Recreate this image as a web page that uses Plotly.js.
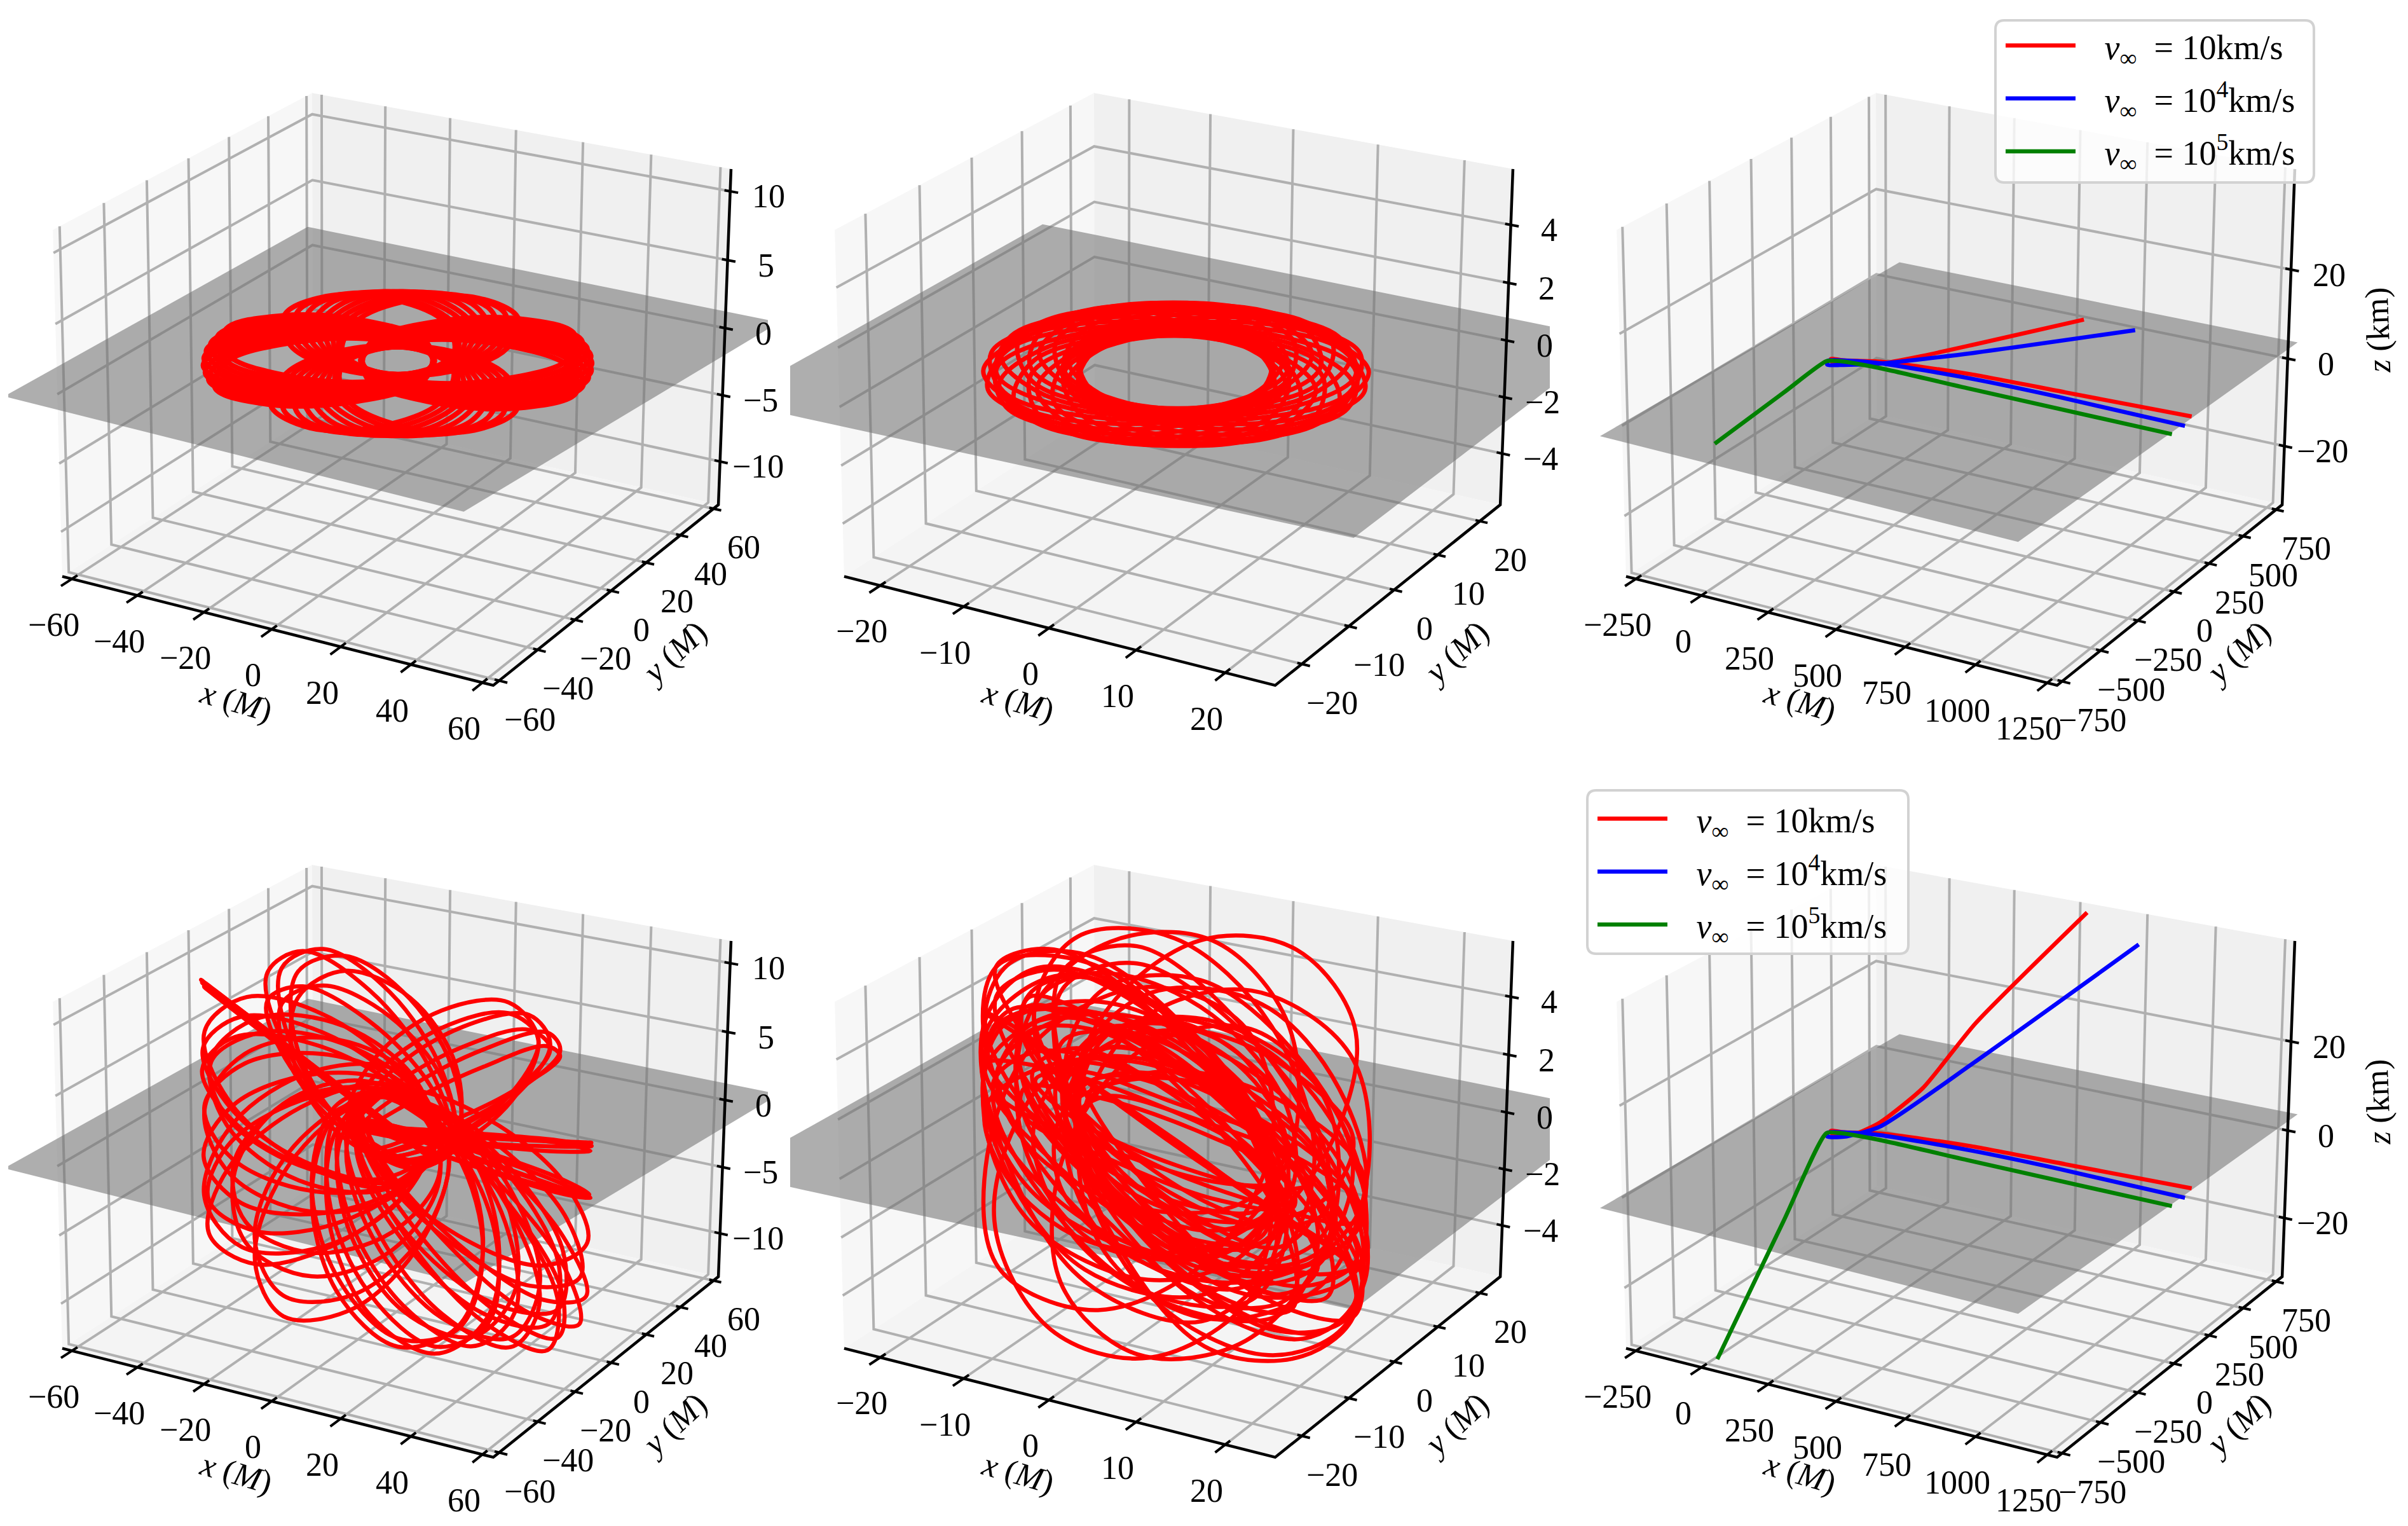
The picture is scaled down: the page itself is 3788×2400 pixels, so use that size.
<!DOCTYPE html>
<html><head><meta charset="utf-8"><script src="https://cdn.plot.ly/plotly-3.0.1.min.js"></script>
<style>html,body{margin:0;padding:0;background:#fff;overflow:hidden}</style></head><body><div id="g" style="width:3788px;height:2400px"></div>
<script>
const N=null;
const xRed=[1235,792,452,141,32,-13,19,82,149,235,332,538];
const yRed=[193,170,153,101,50,39,6,46,84,215,390,774];
const zRedBottom=[0,0,0,0,0,0,0,0.5,3,9,21,40.7];
const xBlue=[1252,795,470,146,12,-13,3,51,148,365,732];
const yBlue=[112,125,120,88,41,21,-10,15,85,320,774];
const zBlueBottom=[0,0,0,0,0,0,0,0,2,14,35.7];
const xGreen=[1247,510,163,19,-15,8,45];
const yGreen=[31,42,50,36,14,-290,-758];
const zGreenBottom=[0,0,0,0,0,-12.4,-31.7];
const legendNames=['&nbsp;&nbsp;&nbsp;<i>v</i><sub>∞</sub>&nbsp;&nbsp;=&nbsp;10km/s','&nbsp;&nbsp;&nbsp;<i>v</i><sub>∞</sub>&nbsp;&nbsp;=&nbsp;10<sup>4</sup>km/s','&nbsp;&nbsp;&nbsp;<i>v</i><sub>∞</sub>&nbsp;&nbsp;=&nbsp;10<sup>5</sup>km/s'];
// equatorial orbit, wide band (z = 0)
const xOrbit1=[-9.5,-1.9,18.7,40.1,49.9,42.3,21.7,.3,N,-9.4,-3.5,16.2,38,49.2,43.4,23.7,1.9,N,-9.1,-5,13.4,35.4,48.1,43.9,25.5,3.5,N,-8.8,-6.5,10.6,32.5,46.4,44.1,27,5,N,-8.4,-7.9,7.7,29.2,44.1,43.7,28.1,6.5,N,-7.9,-9.3,4.6,25.6,41.5,42.8,29,7.9,N,-7.3,-10.5,1.5,21.7,38.3,41.5,29.5,9.3,N,-6.6,-11.6,-1.6,17.6,34.8,39.8,29.2,10.5,N,-5.8,-12.6,-4.7,13.3,30.8,37.6,29.7,11.6,N,
.7,-15.3,-23.2,-18.3,-3.5,12.5,20.3,15.4,N,1.6,-15,-25,-22.4,-8.7,8,18,15.3,N,2.6,-14.6,-26.5,-26.2,-13.8,3.4,15.4,15,N,3.6,-14,-27.8,-29.8,-18.7,-1.2,12.6,14.6,N,4.5,-13.2,-28.8,-33,-23.5,-5.8,9.8,14,N,5.3,-12.3,-29.4,-35.9,-28,-10.3,6.8,13.2,N,6.1,-11.3,-29.7,-38.4,-32.1,-14.8,3.7,12.3,N,6.8,-10.1,-29.7,-40.4,-36,-19,.6,11.3,N,7.5,-8.9,-29.4,-42,-39.4,-23.1,-2.5,10.1,N,
9.5,1.9,-18.7,-40.1,-49.9,-42.3,-21.7,-.3,N,9.4,3.5,-16.2,-38,-49.2,-43.4,-23.7,-1.9,N,9.1,5,-13.4,-35.4,-48.1,-43.9,-25.5,-3.5,N,8.8,6.5,-10.6,-32.5,-46.4,-44.1,-27,-5,N,8.4,7.9,-7.7,-29.2,-44.1,-43.7,-28.1,-6.5,N,7.9,9.3,-4.6,-25.6,-41.5,-42.8,-29,-7.9,N,7.3,10.5,-1.5,-21.7,-38.3,-41.5,-29.5,-9.3,N,6.6,11.6,1.6,-17.6,-34.8,-39.8,-29.2,-10.5,N,5.8,12.6,4.7,-13.3,-30.8,-37.6,-29.7,-11.6,N,
-.7,15.3,23.2,18.3,3.5,-12.5,-20.3,-15.4,N,-1.6,15,25,22.4,8.7,-8,-18,-15.3,N,-2.6,14.6,26.5,26.2,13.8,-3.4,-15.4,-15,N,-3.6,14,27.8,29.8,18.7,1.2,-12.6,-14.6,N,-4.5,13.2,28.8,33,23.5,5.8,-9.8,-14,N,-5.3,12.3,29.4,35.9,28,10.3,-6.8,-13.2,N,-6.1,11.3,29.7,38.4,32.1,14.8,-3.7,-12.3,N,-6.8,10.1,29.7,40.4,36,19,-.6,-11.3,N,-7.5,8.9,29.4,42,39.4,23.1,2.5,-10.1];
const yOrbit1=[-.7,15.3,23.2,18.3,3.5,-12.5,-20.3,-15.4,N,-1.6,15,25,22.4,8.7,-8,-18,-15.3,N,-2.6,14.6,26.5,26.2,13.8,-3.4,-15.4,-15,N,-3.6,14,27.8,29.8,18.7,1.2,-12.6,-14.6,N,-4.5,13.2,28.8,33,23.5,5.8,-9.8,-14,N,-5.3,12.3,29.4,35.9,28,10.3,-6.8,-13.2,N,-6.1,11.3,29.7,38.4,32.1,14.8,-3.7,-12.3,N,-6.8,10.1,29.7,40.4,36,19,-.6,-11.3,N,-7.5,8.9,29.4,42,39.4,23.1,2.5,-10.1,N,
-9.5,-1.9,18.7,40.1,49.9,42.3,21.7,.3,N,-9.4,-3.5,16.2,38,49.2,43.4,23.7,1.9,N,-9.1,-5,13.4,35.4,48.1,43.9,25.5,3.5,N,-8.8,-6.5,10.6,32.5,46.4,44.1,27,5,N,-8.4,-7.9,7.7,29.2,44.1,43.7,28.1,6.5,N,-7.9,-9.3,4.6,25.6,41.5,42.8,29,7.9,N,-7.3,-10.5,1.5,21.7,38.3,41.5,29.5,9.3,N,-6.6,-11.6,-1.6,17.6,34.8,39.8,29.2,10.5,N,-5.8,-12.6,-4.7,13.3,30.8,37.6,29.7,11.6,N,
.7,-15.3,-23.2,-18.3,-3.5,12.5,20.3,15.4,N,1.6,-15,-25,-22.4,-8.7,8,18,15.3,N,2.6,-14.6,-26.5,-26.2,-13.8,3.4,15.4,15,N,3.6,-14,-27.8,-29.8,-18.7,-1.2,12.6,14.6,N,4.5,-13.2,-28.8,-33,-23.5,-5.8,9.8,14,N,5.3,-12.3,-29.4,-35.9,-28,-10.3,6.8,13.2,N,6.1,-11.3,-29.7,-38.4,-32.1,-14.8,3.7,12.3,N,6.8,-10.1,-29.7,-40.4,-36,-19,.6,11.3,N,7.5,-8.9,-29.4,-42,-39.4,-23.1,-2.5,10.1,N,
9.5,1.9,-18.7,-40.1,-49.9,-42.3,-21.7,-.3,N,9.4,3.5,-16.2,-38,-49.2,-43.4,-23.7,-1.9,N,9.1,5,-13.4,-35.4,-48.1,-43.9,-25.5,-3.5,N,8.8,6.5,-10.6,-32.5,-46.4,-44.1,-27,-5,N,8.4,7.9,-7.7,-29.2,-44.1,-43.7,-28.1,-6.5,N,7.9,9.3,-4.6,-25.6,-41.5,-42.8,-29,-7.9,N,7.3,10.5,-1.5,-21.7,-38.3,-41.5,-29.5,-9.3,N,6.6,11.6,1.6,-17.6,-34.8,-39.8,-29.2,-10.5,N,5.8,12.6,4.7,-13.3,-30.8,-37.6,-29.7,-11.6];
// equatorial orbit, narrow band (z = 0)
const xOrbit2=[-10,-5.6,4.9,15.4,19.8,15.4,4.9,-5.6,N,-9.7,-8,1,12.3,19.1,17.5,8.4,-2.8,N,-8.7,-9.8,-2.8,8.3,17.1,18.3,11.3,.2,N,-7.1,-11.1,-6.5,3.8,14,18,13.5,3.1,N,-5,-11.5,-9.8,-1,9.9,16.4,14.7,5.9,N,-2.6,-11.2,-12.3,-5.7,5.1,13.7,14.9,8.2,N,0,-10,-14.1,-10,0,10,14.1,10,N,2.6,-8.2,-14.9,-13.7,-5.1,5.7,12.3,11.2,N,5,-5.9,-14.7,-16.4,-9.9,1,9.8,11.5,N,7.1,-3.1,-13.5,-18,-14,-3.8,6.5,11.1,N,8.7,-.2,-11.3,-18.3,-17.1,-8.3,2.8,9.8,N,9.7,2.8,-8.4,-17.5,-19.1,-12.3,-1,8,N,
10,5.6,-4.9,-15.4,-19.8,-15.4,-4.9,5.6,N,9.7,8,-1,-12.3,-19.1,-17.5,-8.4,2.8,N,8.7,9.8,2.8,-8.3,-17.1,-18.3,-11.3,-.2,N,7.1,11.1,6.5,-3.8,-14,-18,-13.5,-3.1,N,5,11.5,9.8,1,-9.9,-16.4,-14.7,-5.9,N,2.6,11.2,12.3,5.7,-5.1,-13.7,-14.9,-8.2,N,0,10,14.1,10,0,-10,-14.1,-10,N,-2.6,8.2,14.9,13.7,5.1,-5.7,-12.3,-11.2,N,-5,5.9,14.7,16.4,9.9,-1,-9.8,-11.5,N,-7.1,3.1,13.5,18,14,3.8,-6.5,-11.1,N,-8.7,.2,11.3,18.3,17.1,8.3,-2.8,-9.8,N,-9.7,-2.8,8.4,17.5,19.1,12.3,1,-8];
const yOrbit2=[0,10,14.1,10,0,-10,-14.1,-10,N,-2.6,8.2,14.9,13.7,5.1,-5.7,-12.3,-11.2,N,-5,5.9,14.7,16.4,9.9,-1,-9.8,-11.5,N,-7.1,3.1,13.5,18,14,3.8,-6.5,-11.1,N,-8.7,.2,11.3,18.3,17.1,8.3,-2.8,-9.8,N,-9.7,-2.8,8.4,17.5,19.1,12.3,1,-8,N,-10,-5.6,4.9,15.4,19.8,15.4,4.9,-5.6,N,-9.7,-8,1,12.3,19.1,17.5,8.4,-2.8,N,-8.7,-9.8,-2.8,8.3,17.1,18.3,11.3,.2,N,-7.1,-11.1,-6.5,3.8,14,18,13.5,3.1,N,-5,-11.5,-9.8,-1,9.9,16.4,14.7,5.9,N,-2.6,-11.2,-12.3,-5.7,5.1,13.7,14.9,8.2,N,
0,-10,-14.1,-10,0,10,14.1,10,N,2.6,-8.2,-14.9,-13.7,-5.1,5.7,12.3,11.2,N,5,-5.9,-14.7,-16.4,-9.9,1,9.8,11.5,N,7.1,-3.1,-13.5,-18,-14,-3.8,6.5,11.1,N,8.7,-.2,-11.3,-18.3,-17.1,-8.3,2.8,9.8,N,9.7,2.8,-8.4,-17.5,-19.1,-12.3,-1,8,N,10,5.6,-4.9,-15.4,-19.8,-15.4,-4.9,5.6,N,9.7,8,-1,-12.3,-19.1,-17.5,-8.4,2.8,N,8.7,9.8,2.8,-8.3,-17.1,-18.3,-11.3,-.2,N,7.1,11.1,6.5,-3.8,-14,-18,-13.5,-3.1,N,5,11.5,9.8,1,-9.9,-16.4,-14.7,-5.9,N,2.6,11.2,12.3,5.7,-5.1,-13.7,-14.9,-8.2];
// inclined orbit, wide band: two passes over the same (x, y) track
const xOrbit4=[8.2,-7,-28.4,-43.5,-43.3,-28.1,-6.6,8.4,N,7.6,-8.6,-29.3,-42.3,-40,-23.7,-3.1,9.9,N,6.8,-10.1,-29.7,-40.4,-36,-19,.6,11.3,N,8.4,7.9,-7.7,-29.2,-44.1,-43.7,-28.1,-6.5,N,8.7,6.8,-10.1,-32,-46,-44.1,-27.2,-5.3,N,8,9.1,-5.1,-26.3,-42,-43,-28.9,-7.7,N,7.8,9.5,-4.1,-25,-41,-42.7,-29.1,-8.2,N,8.6,7.2,-9.1,-30.9,-45.3,-43.9,-27.6,-6.2,N,6.7,11.5,1.1,-18.3,-35.4,-40.1,-29.7,-10.3,N,9.2,4.8,-13.9,-35.9,-48.3,-43.9,-25.2,-3.2,N,3.2,14.8,13.6,.4,-17.1,-28.6,-27.4,-14.2,N,.8,15.4,20,11.8,-4.4,-18.9,-23.5,-15.3,N,-6.2,11.1,29.7,38.7,32.8,15.5,-3.2,-12.2,N,-4.75,12.9,29,34,25,7.3,-8.8,-13.7,N,-7.5,8.9,29.4,42,39.4,23.1,2.5,-10.1,N,-8.6,5.8,27.6,43.9,45.3,30.9,9.1,-7.2,N,-9.4,1.9,23.7,43.4,49.2,38,16.2,-3.5,N,-9.5,.5,22.1,42.5,49.8,39.8,18.3,-2.1,N,-8.4,-7.9,7.7,29.2,44.1,43.7,28.1,6.5,N,-8.8,-6.5,10.6,32.5,46.4,44.1,27,5,N,-7.9,-9.3,4.6,25.6,41.5,42.8,29,7.9,N,-2.3,-15.1,-16.3,-5,12.1,24.9,26,14.8,N,-3.6,-14.6,-12.6,1.2,18.7,29.8,27.8,14,N,-1,-15.4,-19.6,-11,5.3,19.7,23.8,15.2,N,-9,-5.5,12.5,34.5,47.6,44,26,4,N,-9.4,-3.5,16.2,38,49.2,43.4,23.7,1.9];
const yOrbit4=[-4.75,-13.7,-8.8,7.3,25,34,29,12.9,N,-5.7,-12.8,-5.2,12.6,30.1,37.2,29.6,11.8,N,-6.6,-11.6,-1.6,17.6,34.8,39.8,29.7,10.5,N,4.5,-13.2,-28.8,-33,-23.5,-5.8,9.8,14,N,3.7,-13.9,-28,-30.3,-19.6,-2,12.2,14.5,N,5.2,-12.5,-29.3,-35.4,-27.3,-9.6,7.2,13.4,N,5.5,-12.2,-29.5,-36.3,-28.7,-11.1,6.2,13.1,N,4,-13.6,-28.3,-31.4,-21.2,-3.5,11.2,14.3,N,6.7,-10.3,-29.7,-40.1,-35.4,-18.3,1.1,11.5,N,2.5,-14.7,-26.3,-25.6,-13,4.2,15.8,15.1,N,8.9,-4.5,-26.5,-44.1,-47,-33.6,-11.6,6,N,9.5,-.5,-22.1,-42.5,-49.8,-39.8,-18.3,2.1,N,7.2,10.7,-1,-21.1,-37.8,-41.3,-29.6,-9.5,N,8.2,8.4,-6.6,-28.1,-43.3,-43.5,-28.4,-7,N,5.8,12.6,4.7,-13.3,-30.8,-37.6,-29.7,-11.6,N,4,14.3,11.2,-3.5,-21.2,-31.4,-28.3,-13.6,N,1.6,15.3,18,8,-8.7,-22.4,-25,-15,N,.8,15.4,20,11.8,-4.4,-18.9,-23.5,-15.3,N,-4.5,13.2,28.8,33,23.5,5.8,-9.8,-14,N,-3.6,14,27.8,29.8,18.7,1.2,-12.6,-14.6,N,-5.3,12.3,29.4,35.9,28,10.3,-6.8,-13.2,N,-9.2,3,24.9,43.8,48.5,36.3,14.4,-4.5,N,-8.8,5,27,44.1,46.4,32.5,10.6,-6.5,N,-9.5,.8,22.4,42.7,49.7,39.5,17.9,-2.4,N,-2.9,14.4,27,27.4,15.5,-1.9,-14.5,-14.9,N,-1.6,15,25,22.4,8.7,-8,-18,-15.3];
const zOrbit4=[-1.7,1.2,5.6,8.8,9,6.1,1.7,-1.5,N,-1.7,1.3,5.7,8.8,8.9,5.9,1.5,-1.6,N,-1.6,1.2,5.3,8.2,8.2,5.4,1.4,-1.5,N,-2,1.7,6.9,10.6,10.6,7,1.7,-2,N,-1.8,1.9,6.9,10.3,9.9,6.1,1.1,-2.2,N,-2.1,1.3,6.6,10.7,11.2,7.7,2.5,-1.7,N,.3,-2,-3.3,-3.1,-1.3,.8,2.2,2,N,-.3,-2,-2.1,-.6,1.5,3.1,3.3,1.9,N,.7,-1.4,-3.6,-4.4,-3.5,-1.4,.7,1.6,N,-.7,-1.7,-.7,1.6,3.8,4.7,3.8,1.5,N,.6,-1.9,-4,-4.5,-3,-.5,1.6,2,N,1.4,-.8,-4.3,-7,-7.3,-5,-1.6,1.1,N,1.9,-1.3,-6,-9.6,-10,-6.8,-2,1.6,N,1.8,-1.7,-6.5,-9.6,-9.3,-5.8,-1.1,2,N,2,-.8,-5.5,-9.5,-10.3,-7.6,-2.9,1.1,N,2.1,-.6,-5.5,-9.8,-11,-8.4,-3.4,.9,N,2.4,-.5,-5.9,-10.9,-12.3,-9.5,-4.1,.9,N,2.3,-.6,-5.9,-10.6,-11.8,-9,-3.7,1,N,.2,-1.8,-3,-2.5,-.8,1.2,2.3,1.9,N,0,-1.7,-2.4,-1.7,0,1.6,2.3,1.7,N,.3,-1.9,-3.3,-3.3,-1.7,.5,2,1.9,N,-.9,-.5,1.4,3.7,5,4.5,2.6,.3,N,-.8,-1.2,.1,2.3,4.2,4.6,3.3,1.1,N,-1,.1,2.5,4.7,5.5,4.3,2,-.3,N,2.1,.8,-3.6,-8.4,-10.9,-9.6,-5.3,-.4,N,2.3,.1,-5.1,-10.2,-12.2,-10,-4.8,.3,N,
-1.2,1.4,4.7,6.8,6.4,3.8,.5,-1.6,N,-1.2,.9,4,6.2,6.2,4.1,1,-1.2,N,-1.3,.3,3.4,6.3,7.1,5.5,2.3,-.5,N,-1.1,-1.9,-.2,3,5.9,6.7,5,1.7,N,-1.3,-2.3,-.4,3.3,6.7,7.8,5.9,2.1,N,-.9,-1.8,-.5,2.3,4.8,5.6,4.3,1.6,N,.8,-2.8,-5.7,-6.3,-4.1,-.5,2.4,3,N,-.2,-2.9,-3.6,-1.9,1.2,3.8,4.5,2.9,N,1.1,-1.8,-5,-6.8,-6,-3.1,.2,2,N,-.8,-2.5,-1.8,1,4.1,5.8,5.1,2.3,N,.9,-2.4,-5.3,-6.2,-4.5,-1.3,1.7,2.5,N,1.7,-.6,-4.6,-8,-8.8,-6.6,-2.6,.8,N,2,-.3,-4.9,-9.1,-10.5,-8.3,-3.6,.6,N,1.9,-1.1,-5.8,-9.4,-9.9,-6.9,-2.2,1.4,N,1.8,.2,-3.8,-7.9,-9.6,-8,-3.9,.1,N,2,.4,-3.9,-8.3,-10.3,-8.7,-4.5,-.1,N,2,.5,-3.7,-8.2,-10.4,-8.9,-4.7,-.2,N,1.8,.7,-3.2,-7.5,-9.7,-8.5,-4.7,-.4,N,.9,-2,-4.8,-5.9,-4.6,-1.8,1,2.1,N,.8,-1.8,-4.2,-5.1,-4,-1.5,1,1.9,N,.9,-1.9,-4.7,-6,-4.9,-2.1,.8,2,N,-.7,-1,.2,2.2,3.9,4.2,3,.9,N,-.6,-1.7,-1,1,3.2,4.2,3.5,1.6,N,-.9,-.5,1.2,3.4,4.7,4.4,2.6,.4,N,1.3,1.5,-.9,-4.4,-6.9,-7.1,-4.7,-1.2,N,1.7,.9,-2.4,-6.4,-8.7,-8,-4.6,-.6];
// inclined orbit, narrow band: three passes over the same (x, y) track
const xOrbit5=[-10,-5.5,5.5,16.5,19.8,16.5,5.5,-5.5,N,-9.4,-8.7,.2,12,18.6,19,10.1,-1.7,N,-7.7,-10.8,-5.1,6.1,15.2,19.2,13.5,2.4,N,-5,-11.6,-9.8,-.6,9.9,17.1,15.3,6.1,N,-1.7,-11.1,-13.3,-7.2,3.4,13,15.2,9.1,N,1.7,-9.1,-15.2,-13,-3.4,7.2,13.3,11.1,N,5,-6.1,-15.3,-17.1,-9.9,.6,9.8,11.6,N,7.7,-2.4,-13.5,-19.2,-15.2,-6.1,5.1,10.8,N,9.4,1.7,-10.1,-19,-18.6,-12,-.2,8.7,N,
10,5.5,-5.5,-16.5,-19.8,-16.5,-5.5,5.5,N,9.4,8.7,-.2,-12,-18.6,-19,-10.1,1.7,N,7.7,10.8,5.1,-6.1,-15.2,-19.2,-13.5,-2.4,N,5,11.6,9.8,.6,-9.9,-17.1,-15.3,-6.1,N,1.7,11.1,13.3,7.2,-3.4,-13,-15.2,-9.1,N,-1.7,9.1,15.2,13,3.4,-7.2,-13.3,-11.1,N,-5,6.1,15.3,17.1,9.9,-.6,-9.8,-11.6,N,-7.7,2.4,13.5,19.2,15.2,6.1,-5.1,-10.8,N,-9.4,-1.7,10.1,19,18.6,12,.2,-8.7];
const yOrbit5=[0,10.2,14.5,10.2,0,-10.2,-14.5,-10.2,N,-3.4,7.8,15.5,15.3,6.8,-4,-11.8,-11.5,N,-6.4,4.3,14.6,18.5,12.7,2.8,-7.6,-11.4,N,-8.7,.4,12,19.4,17.1,9.2,-2.5,-9.9,N,-9.9,-3.6,7.9,18,19.5,14.5,2.9,-7.2,N,-9.9,-7.2,2.9,14.5,19.5,18,7.9,-3.6,N,-8.7,-9.9,-2.5,9.2,17.1,19.4,12,.4,N,-6.4,-11.4,-7.6,2.8,12.7,18.5,14.6,4.3,N,-3.4,-11.5,-11.8,-4,6.8,15.3,15.5,7.8,N,
0,-10.2,-14.5,-10.2,0,10.2,14.5,10.2,N,3.4,-7.8,-15.5,-15.3,-6.8,4,11.8,11.5,N,6.4,-4.3,-14.6,-18.5,-12.7,-2.8,7.6,11.4,N,8.7,-.4,-12,-19.4,-17.1,-9.2,2.5,9.9,N,9.9,3.6,-7.9,-18,-19.5,-14.5,-2.9,7.2,N,9.9,7.2,-2.9,-14.5,-19.5,-18,-7.9,3.6,N,8.7,9.9,2.5,-9.2,-17.1,-19.4,-12,-.4,N,6.4,11.4,7.6,-2.8,-12.7,-18.5,-14.6,-4.3,N,3.4,11.5,11.8,4,-6.8,-15.3,-15.5,-7.8];
const zOrbit5=[2.5,1.4,-1.4,-4.1,-4.8,-4.1,-1.4,1.4,N,2.1,2.5,.9,-2,-4.3,-4.8,-3.1,-.3,N,.9,2.6,2.5,.6,-1.9,-3.6,-3.5,-1.6,N,-.3,2.1,3.4,2.8,.7,-1.8,-3.1,-2.5,N,-.6,2.1,3.7,3.4,1.3,-1.4,-3.1,-2.7,N,-.8,2.1,4.1,4,1.8,-1.1,-3.1,-3,N,-.8,2,4,3.8,1.7,-1.1,-3.1,-2.9,N,-.9,1.6,3.5,3.6,1.9,-.6,-2.5,-2.6,N,-2,-.1,2.5,4.3,4.2,2.3,-.3,-2.1,N,-2.6,-1.6,1.1,4.1,5,4.5,1.7,-1.2,N,-1.8,-2.5,-1.2,1.4,3.8,4.5,3.2,.5,N,-.6,-2.5,-2.7,-1.1,1.3,3.1,3.3,1.8,N,-.1,-2.4,-3.2,-2.1,.3,2.5,3.3,2.2,N,.1,-2.5,-3.6,-2.6,-.2,2.4,3.5,2.5,N,.1,-2.6,-3.9,-3,-.3,2.4,3.7,2.8,N,.4,-2.1,-3.6,-3,-.9,1.7,3.1,2.6,N,1.2,-1.2,-3.2,-3.7,-2.4,-.1,1.9,2.4,N,2.4,.4,-2.5,-4.6,-4.7,-3,-.1,2.2,N,
2.8,2.8,.2,-3.4,-5,-5,-3.3,.3,N,.3,2.9,3.7,2.2,-.6,-3.2,-4,-2.6,N,2.8,2.9,.3,-3.3,-5,-5.1,-3.4,.2,N,2.6,1.5,-1.2,-4.2,-5,-4.4,-1.5,1.3,N,-2.5,-.3,2.8,4.8,4.9,3.1,0,-2.4,N,-.9,2.6,4.7,4.6,2,-1.6,-4,-3.7,N,-2.4,.5,4,5.2,4.8,2.1,-1.3,-3.2,N,-2.4,-2.4,-.2,3,4.8,4.8,2.9,-.3,N,-2.5,.4,3.9,5.3,4.9,2.4,-1.1,-3.2,N,-1.4,1.4,4,4.5,2.9,.1,-2.4,-3,N,.4,-2.4,-4,-3.4,-.9,2,3.6,2.9,N,-2.2,-3.7,-2.2,1.3,4.5,5.3,4.5,1.3,N,-.4,-3.2,-4.1,-2.5,.7,3.7,4.6,2.9,N,2.2,-.4,-3.5,-4.8,-4.4,-1.9,1.1,2.8,N,-.3,-3.3,-4.4,-2.7,.6,3.6,4.6,3,N,-1.2,-3.1,-2.7,-.4,2.5,4.4,4,1.7,N,2.1,2.9,1.3,-1.7,-4.3,-4.7,-3.5,-.6,N,3.1,1,-2.7,-5,-5.3,-4.4,-.7,2.5,N,
1,1.1,.1,-1.2,-2.1,-2.2,-1.3,.1,N,1.6,1.1,-.6,-2.5,-3.5,-2.8,-1.1,.8,N,1.2,.5,-1.1,-2.4,-2.7,-1.8,-.3,.9,N,.4,2.1,2.5,1.3,-.8,-2.5,-3,-1.7,N,-.3,.9,1.7,1.6,.6,-.6,-1.4,-1.3,N,.1,1.8,2.3,1.5,-.2,-1.9,-2.4,-1.7,N,.5,1.5,1.5,.5,-1,-1.9,-2,-.9,N,-1.8,-.3,1.9,3.7,3.7,2.2,0,-1.6,N,-1.1,-.8,.4,1.7,2.4,2,.8,-.5,N,-1.6,-.5,1.5,3,3.4,2.2,.3,-1.3,N,-1.1,.1,1.6,2.5,2.3,1.1,-.4,-1.3,N,-1,-2.2,-1.8,0,2.1,3.3,2.9,1.1,N,-.1,-1.2,-1.6,-1.1,.1,1.2,1.6,1.1,N,-.7,-1.9,-1.8,-.5,1.4,2.7,2.5,1.2,N,-.9,-1.4,-.9,.5,1.8,2.4,1.9,.5,N,1.4,-.5,-2.6,-3.7,-3,-1.1,1.1,2.1,N,1.1,.4,-1,-2,-2.3,-1.5,-.2,.9,N,1.4,-.2,-2.1,-3.2,-2.9,-1.3,.6,1.7];

const ticksA=[-60,-40,-20,0,20,40,60], ticksB=[-20,-10,0,10,20], ticksC=[-250,0,250,500,750,1000,1250], ticksCy=[-750,-500,-250,0,250,500,750];
const planeA=[[-73.8,-70.9],[-71.7,75],[73.5,74],[61.2,-75.8]], planeB=[[-35,-30],[-34.8,31.2],[35,31],[34.9,-28.1]], planeC=[[-300,-888],[-279,940],[1250,945],[1228,-937]];
const panels=[
 {id:'',col:0,row:0,xl:[-63,63],yl:[-63,63],zl:[-13.3,11.6],xt:ticksA,yt:ticksA,zt:[-10,-5,0,5,10],plane:planeA},
 {id:'2',col:1,row:0,xl:[-24.4,25.5],yl:[-25.5,25],zl:[-5.84,5.9],xt:ticksB,yt:ticksB,zt:[-4,-2,0,2,4],plane:planeB},
 {id:'3',col:2,row:0,xl:[-288,1284],yl:[-782,797],zl:[-33.6,42.2],xt:ticksC,yt:ticksCy,zt:[-20,0,20],plane:planeC,zlabel:true},
 {id:'4',col:0,row:1,xl:[-63,63],yl:[-63,63],zl:[-13.3,11.6],xt:ticksA,yt:ticksA,zt:[-10,-5,0,5,10],plane:planeA},
 {id:'5',col:1,row:1,xl:[-24.4,25.5],yl:[-25.5,25],zl:[-5.84,5.9],xt:ticksB,yt:ticksB,zt:[-4,-2,0,2,4],plane:planeB},
 {id:'6',col:2,row:1,xl:[-288,1284],yl:[-782,797],zl:[-33.6,42.2],xt:ticksC,yt:ticksCy,zt:[-20,0,20],plane:planeC,zlabel:true}
];
const cornersUnit=[[0,0,0],[1,0,0],[1,1,0],[0,0,1],[0,1,1],[1,1,1],[0,1,0]];
const cornersPx=[[99.3,906],[776,1078.3],[1131,793.3],[81.7,361.7],[493.3,146],[1149,266],[490,652]];
const colStep=1230,rowStep=1214;
function fit(){const A=[],b=[];
 cornersUnit.forEach((c,i)=>{const x=(cornersPx[i][0]-620)/500,y=(cornersPx[i][1]-600)/500,[X,Y,Z]=c;
  A.push([X,Y,Z,1,0,0,0,0,-x*X,-x*Y,-x*Z]);b.push(x);A.push([0,0,0,0,X,Y,Z,1,-y*X,-y*Y,-y*Z]);b.push(y);});
 const n=11,M=[];for(let i=0;i<n;i++){M.push(new Array(n+1).fill(0));for(let j=0;j<n;j++)for(let k=0;k<A.length;k++)M[i][j]+=A[k][i]*A[k][j];for(let k=0;k<A.length;k++)M[i][n]+=A[k][i]*b[k];}
 for(let i=0;i<n;i++){let p=i;for(let r=i+1;r<n;r++)if(Math.abs(M[r][i])>Math.abs(M[p][i]))p=r;[M[i],M[p]]=[M[p],M[i]];
  for(let r=0;r<n;r++)if(r!==i){const f=M[r][i]/M[i][i];for(let c=i;c<=n;c++)M[r][c]-=f*M[i][c];}}
 return M.map((r,i)=>r[n]/r[i]);}
const C=fit();
function projector(p){const dx=p.col*colStep,dy=p.row*rowStep;
 return (x,y,z)=>{if(x===null||x===undefined)return [null,null];const u=(x-p.xl[0])/(p.xl[1]-p.xl[0]),v=(y-p.yl[0])/(p.yl[1]-p.yl[0]),w=(z-p.zl[0])/(p.zl[1]-p.zl[0]);
  const d=C[8]*u+C[9]*v+C[10]*w+1;return [(C[0]*u+C[1]*v+C[2]*w+C[3])/d*500+620+dx,(C[4]*u+C[5]*v+C[6]*w+C[7])/d*500+600+dy];};}
const traces=[],annotations=[],shapes=[],layout={width:3788,height:2400,margin:{l:0,r:0,t:0,b:0},paper_bgcolor:'#fff',plot_bgcolor:'rgba(0,0,0,0)',showlegend:true,hovermode:false};
const FONT='Liberation Serif';
function addLine(p,P,pts,color,width,extra){const xs=[],ys=[];pts.forEach(q=>{const r=P(q[0],q[1],q[2]);xs.push(r[0]);ys.push(r[1]);});
 traces.push(Object.assign({type:'scatter',mode:'lines',x:xs,y:ys,xaxis:'x'+p.id,yaxis:'y'+p.id,showlegend:false,hoverinfo:'skip',line:{color:color,width:width}},extra||{}));}
function addFill(p,P,pts,color){addLine(p,P,pts.concat([pts[0]]),color,0,{fill:'toself',fillcolor:color,line:{width:0,color:color}});}
function addOrbit(p,X,Y,Z,width){const P=projector(p),xs=[],ys=[];let first=null;
 const close=()=>{if(first){xs.push(first[0],null);ys.push(first[1],null);first=null;}};
 X.forEach((v,i)=>{if(v===null){close();return;}const r=P(v,Y[i],Z?Z[i]:0);if(!first)first=r;xs.push(r[0]);ys.push(r[1]);});close();
 traces.push({type:'scatter',mode:'lines',x:xs,y:ys,xaxis:'x'+p.id,yaxis:'y'+p.id,showlegend:false,hoverinfo:'skip',line:{color:'#ff0000',width:width,shape:'spline',smoothing:1}});}
panels.forEach((p,i)=>{const P=projector(p),[xa,xb]=p.xl,[ya,yb]=p.yl,[za,zb]=p.zl;
 const x0=13+p.col*colStep,x1=x0+1195,y0=p.row===0?0:1200,y1=y0+1200;
 layout['xaxis'+p.id]={domain:[x0/3788,x1/3788],range:[x0,x1],visible:false,fixedrange:true};
 layout['yaxis'+p.id]={domain:[1-y1/2400,1-y0/2400],range:[y1,y0],visible:false,fixedrange:true};
 addFill(p,P,[[xa,ya,za],[xa,yb,za],[xa,yb,zb],[xa,ya,zb]],'#f7f7f7');
 addFill(p,P,[[xa,yb,za],[xb,yb,za],[xb,yb,zb],[xa,yb,zb]],'#f0f0f0');
 addFill(p,P,[[xa,ya,za],[xb,ya,za],[xb,yb,za],[xa,yb,za]],'#f4f4f4');
 const g=[];
 p.xt.forEach(t=>{g.push([t,ya,za],[t,yb,za],[t,yb,zb],[null]);});
 p.yt.forEach(t=>{g.push([xb,t,za],[xa,t,za],[xa,t,zb],[null]);});
 p.zt.forEach(t=>{g.push([xa,ya,t],[xa,yb,t],[xb,yb,t],[null]);});
 addLine(p,P,g,'#b0b0b0',4);
 addFill(p,P,p.plane.map(c=>[c[0],c[1],0]),'rgba(112,112,112,0.57)');
 addLine(p,P,[[xa,ya,za],[xb,ya,za],[xb,yb,za],[xb,yb,zb]],'#000',4.5);
 const dy=yb-ya,dx=xb-xa,t=[];
 p.xt.forEach(v=>t.push([v,ya-0.04*dy,za],[v,ya+0.02*dy,za],[null]));
 p.yt.forEach(v=>t.push([xb+0.018*dx,v,za],[xb-0.01*dx,v,za],[null]));
 p.zt.forEach(v=>t.push([xb+0.018*dx,yb,v],[xb-0.013*dx,yb,v],[null]));
 addLine(p,P,t,'#000',4);
 const lab=(txt,q,sx,sy,ang)=>{const r=q.length===3?P(q[0],q[1],q[2]):q;annotations.push({xref:'paper',yref:'paper',x:(r[0]+sx)/3788,y:1-(r[1]+sy)/2400,text:txt,showarrow:false,xanchor:'center',yanchor:'middle',textangle:ang||0,font:{family:FONT,size:52,color:'#000'}});};
 const s=v=>String(v).replace('-','−');
 p.xt.forEach(v=>lab(s(v),[v,ya,za],-29,72));
 p.yt.forEach(v=>lab(s(v),[xb,v,za],48,61));
 p.zt.forEach(v=>lab(s(v),[xb,yb,v],60,8));
 const ox=p.col*colStep,oy=p.row*rowStep;
 lab('<i>x</i> (<i>M</i>)',[371+ox,1103+oy],0,0,16);
 lab('<i>y</i> (<i>M</i>)',[1060+ox,1027+oy],0,0,-43);
 if(p.zlabel)lab('<i>z</i> (km)',[1281+ox,520+oy],0,0,-92);
});
function legendBox(x0,y0,x1,y1,ax){const r=14;shapes.push({type:'path',xref:'x'+ax,yref:'y'+ax,layer:'above',path:`M${x0+r},${y0}L${x1-r},${y0}Q${x1},${y0} ${x1},${y0+r}L${x1},${y1-r}Q${x1},${y1} ${x1-r},${y1}L${x0+r},${y1}Q${x0},${y1} ${x0},${y1-r}L${x0},${y0+r}Q${x0},${y0} ${x0+r},${y0}Z`,fillcolor:'rgba(255,255,255,0.8)',line:{color:'#d2d2d2',width:4}});}
function scatterSet(p,zr,zb,zg,leg){const P=projector(p);
 [[xRed,yRed,zr,'#ff0000',0],[xBlue,yBlue,zb,'#0000ff',1],[xGreen,yGreen,zg,'#008000',2]].forEach(a=>{
  const xs=[],ys=[];a[0].forEach((v,i)=>{const r=P(v,a[1][i],a[2][i]);xs.push(r[0]);ys.push(r[1]);});
  traces.push({type:'scatter',mode:'lines',x:xs,y:ys,xaxis:'x'+p.id,yaxis:'y'+p.id,name:legendNames[a[4]],legend:leg,legendgroup:leg+a[4],showlegend:true,hoverinfo:'skip',line:{color:a[3],width:6.5,shape:'spline',smoothing:0.6}});});}
const zeros=a=>a.map(()=>0);
addOrbit(panels[0],xOrbit1,yOrbit1,null,8);
addOrbit(panels[1],xOrbit2,yOrbit2,null,7);
addOrbit(panels[3],xOrbit4.concat([N],xOrbit4),yOrbit4.concat([N],yOrbit4),zOrbit4,6.5);
addOrbit(panels[4],xOrbit5.concat([N],xOrbit5,[N],xOrbit5),yOrbit5.concat([N],yOrbit5,[N],yOrbit5),zOrbit5,6.5);
scatterSet(panels[2],zeros(xRed),zeros(xBlue),zeros(xGreen),'legend');
scatterSet(panels[5],zRedBottom,zBlueBottom,zGreenBottom,'legend2');
legendBox(3139,32,3640,287,'3');
legendBox(2497,1243,3002,1500,'6');
const legendCommon={bgcolor:'rgba(0,0,0,0)',borderwidth:0,itemwidth:110,tracegroupgap:10,xanchor:'left',yanchor:'top',font:{family:FONT,size:54,color:'#000'},itemclick:false,itemdoubleclick:false};
layout.legend=Object.assign({x:3150/3788,y:1-30/2400},legendCommon);
layout.legend2=Object.assign({x:2508/3788,y:1-1246/2400},legendCommon);
layout.annotations=annotations;layout.shapes=shapes;
Plotly.newPlot('g',traces,layout,{displayModeBar:false,staticPlot:true});
</script></body></html>
